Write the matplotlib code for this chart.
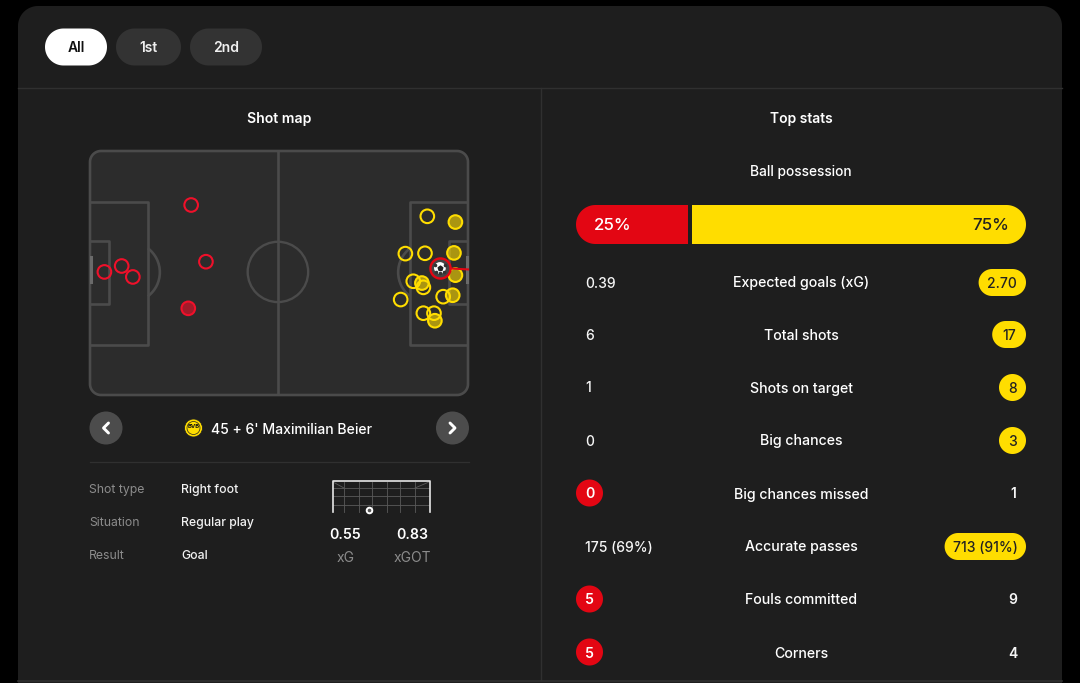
import matplotlib
matplotlib.use("Agg")
import numpy as np
import matplotlib.pyplot as plt
from matplotlib.patches import Polygon, Circle, Arc

plt.rcParams['font.family'] = ['Inter', 'DejaVu Sans']

# ---------- data ----------
periods = ["All", "1st", "2nd"]
possession_home = 25
possession_away = 75
stat_labels = ["Expected goals (xG)", "Total shots", "Shots on target", "Big chances",
               "Big chances missed", "Accurate passes", "Fouls committed", "Corners"]
home_values = ["0.39", "6", "1", "0", "0", "175 (69%)", "5", "5"]
away_values = ["2.70", "17", "8", "3", "1", "713 (91%)", "9", "4"]
highlight = ["away", "away", "away", "away", "home", "away", "home", "home"]

home_x = [28.1, 32.2, 27.3, 4.0, 8.8, 11.9]
home_y = [15.05, 30.85, 43.85, 33.7, 32.05, 35.1]
home_on_target = [False, False, True, False, False, False]
away_x = [93.7, 101.5, 87.6, 93.05, 101.1, 101.5, 89.8, 92.2, 92.6, 86.3, 98.1, 100.75, 92.6, 95.55, 95.8]
away_y = [18.2, 19.8, 28.6, 28.5, 28.4, 34.6, 36.3, 36.8, 38.0, 41.4, 40.6, 40.2, 45.2, 45.2, 47.3]
away_on_target = [False, True, False, False, True, True, False, True, False, False, False, True, False, False, True]
goal_x, goal_y = 97.2, 32.6

detail_labels = ["Shot type", "Situation", "Result"]
detail_values = ["Right foot", "Regular play", "Goal"]
xg_text, xgot_text = "0.55", "0.83"
shot_title = "45 + 6' Maximilian Beier"

# ---------- colours ----------
BLACK = "#000000"; CARD = "#1e1e1e"; LINE = "#303030"; PITCH = "#2c2c2c"; PLINE = "#4b4b4b"
RED = "#e30613"; YEL = "#ffdd00"; WHITE = "#ffffff"; GREY = "#8c8c8c"

W, H = 1080, 683
fig = plt.figure(figsize=(W/100, H/100), dpi=100, facecolor=BLACK)
ax = fig.add_axes([0, 0, 1, 1]); ax.set_xlim(0, W); ax.set_ylim(H, 0); ax.axis("off")

def rpoly(x0, y0, x1, y1, r):
    t = np.linspace(0, np.pi/2, 24)
    pts = []
    for cx, cy, s in ((x1-r, y0+r, -np.pi/2), (x1-r, y1-r, 0), (x0+r, y1-r, np.pi/2), (x0+r, y0+r, np.pi)):
        pts.append(np.c_[cx + r*np.cos(t+s), cy + r*np.sin(t+s)])
    return np.vstack(pts)

def rbox(x0, y0, x1, y1, r, fc, ec="none", lw=0, z=1, a=ax):
    p = Polygon(rpoly(x0, y0, x1, y1, r), closed=True, fc=fc, ec=ec, lw=lw, zorder=z)
    a.add_patch(p); return p

def txt(x, y, s, size=10.5, color=WHITE, ha="center", weight="medium", z=6, a=ax):
    a.text(x, y, s, fontsize=size, color=color, ha=ha, va="center_baseline", fontweight=weight, zorder=z)

# card and dividers
rbox(18, 6, 1062, 720, 20, CARD)
ax.plot([18, 1062], [88, 88], color=LINE, lw=1, zorder=2)
ax.plot([541, 541], [88, 680], color=LINE, lw=1, zorder=2)
ax.plot([18, 1062], [680.5, 680.5], color=LINE, lw=1.2, zorder=2)

# period buttons
btn = [(45, 107), (116, 181), (190, 262)]
for i, (lab, (x0, x1)) in enumerate(zip(periods, btn)):
    rbox(x0, 28.5, x1, 65.5, 18.5, WHITE if i == 0 else "#333333", z=3)
    txt((x0+x1)/2, 47, lab, 10, "#111111" if i == 0 else "#f0f0f0", weight="semibold")

txt(279, 118, "Shot map", 10.1, weight="semibold")
txt(801, 118, "Top stats", 10, weight="semibold")

# ---------- pitch ----------
rbox(90, 151, 468, 395, 11, PITCH, PLINE, 1.9, z=2)
pitch = fig.add_axes([90/W, 1-395/H, 378/W, 244/H]); pitch.set_xlim(0, 105); pitch.set_ylim(68, 0)
pitch.axis("off"); pitch.patch.set_alpha(0)
L = dict(color=PLINE, lw=1.9, zorder=2, solid_capstyle="round")
pitch.plot([52.2, 52.2], [0, 68], **L)
pitch.add_patch(Circle((52.2, 33.7), 8.4, fc="none", ec=PLINE, lw=1.7, zorder=2))
for side in (0, 1):
    f = (lambda v: v) if side == 0 else (lambda v: 105-v)
    pitch.plot([f(0), f(16), f(16), f(0)], [14.2, 14.2, 54.0, 54.0], **L)
    pitch.plot([f(0), f(5.4), f(5.4), f(0)], [25.1, 25.1, 42.6, 42.6], **L)
    ang = (-53, 53) if side == 0 else (127, 233)
    pitch.add_patch(Arc((f(11), 33.8), 16.8, 16.8, theta1=ang[0], theta2=ang[1], ec=PLINE, lw=1.9, zorder=2))
    pitch.plot([f(0.3), f(0.3)], [29.5, 36.5], color="#6a6a6a", lw=2.2, zorder=2, clip_on=False)

def shots(xs, ys, on, col):
    for x, y, o in zip(xs, ys, on):
        pitch.scatter([x], [y], s=96, facecolor=(col if o else "none"), edgecolor="none",
                      alpha=0.6 if o else 1, zorder=4, clip_on=False)
        pitch.scatter([x], [y], s=96, facecolor="none", edgecolor=col, linewidth=1.5, zorder=5, clip_on=False)
shots(home_x, home_y, home_on_target, "#f0102a")
shots(away_x, away_y, away_on_target, YEL)

# selected goal shot
pitch.plot([goal_x, 105], [goal_y, 33.0], color=RED, lw=1.5, zorder=6, clip_on=False)
pitch.scatter([goal_x], [goal_y], s=210, facecolor="#444444", edgecolor=RED, linewidth=1.7, zorder=7)
pitch.scatter([goal_x], [goal_y], s=72, facecolor=WHITE, edgecolor="none", zorder=8)
pitch.scatter([goal_x], [goal_y], s=12, facecolor="#222222", marker="p", zorder=9)
for dx, dy in ((-1.3, -0.7), (1.3, -0.7), (0, 1.4), (-1.0, 1.1), (1.0, 1.1)):
    pitch.scatter([goal_x+dx], [goal_y+dy], s=2.5, facecolor="#333333", zorder=9)

# ---------- navigator ----------
for cx, d in ((106, -1), (452.5, 1)):
    ax.add_patch(Circle((cx, 428), 16.5, fc="#4c4c4c", ec="none", zorder=3))
    ax.plot([cx-d*2.5, cx+d*2.5, cx-d*2.5], [423, 428, 433], color=WHITE, lw=2.1, zorder=4, solid_capstyle="round")
ax.add_patch(Circle((193.5, 428), 9, fc=YEL, ec="#222222", lw=0.6, zorder=3))
ax.add_patch(Circle((193.5, 428), 6.5, fc="none", ec="#222222", lw=0.5, zorder=4))
txt(193.5, 426.5, "BVB", 4.2, "#111111", weight="bold")
txt(211, 428, shot_title, 10.1, ha="left")
ax.plot([90, 469], [461.5, 461.5], color=LINE, lw=0.9, zorder=2)

for i, (a_, b_) in enumerate(zip(detail_labels, detail_values)):
    y = 488.5 + i*33
    txt(89, y, a_, 8.8, GREY, ha="left", weight="normal")
    txt(181, y, b_, 8.8, "#f2f2f2", ha="left")

# goal mini
for x in (344, 359, 372, 387, 400, 415):
    ax.plot([x, x], [482, 512], color="#5a5a5a", lw=0.6, zorder=2)
for y in (488, 496, 505):
    ax.plot([333, 429], [y, y], color="#5a5a5a", lw=0.6, zorder=2)
ax.plot([333, 344], [482, 488], color="#5a5a5a", lw=0.6, zorder=2)
ax.plot([429, 415], [482, 488], color="#5a5a5a", lw=0.6, zorder=2)
ax.plot([332.5, 332.5, 429.5, 429.5], [512, 480.5, 480.5, 512], color="#e6e6e6", lw=1.2, zorder=3)
ax.add_patch(Circle((369.5, 510.5), 2.8, fc="#555555", ec=WHITE, lw=1.4, zorder=4))
txt(345.5, 533.5, xg_text, 10.2, weight="semibold")
txt(412, 533.5, xgot_text, 10.2, weight="semibold")
txt(345.5, 557, "xG", 10, GREY, weight="normal")
txt(412, 557, "xGOT", 10, GREY, weight="normal")

# ---------- top stats ----------
txt(801, 170.5, "Ball possession", 9.9)
bar = fig.add_axes([576/W, 1-244/H, 450/W, 39/H]); bar.set_xlim(0, 100); bar.set_ylim(0, 1); bar.axis("off")
clip = Polygon(rpoly(576, 205, 1026, 244, 19.5), closed=True, fc="none", ec="none", transform=ax.transData)
ax.add_patch(clip)
b1 = bar.barh([0.5], [possession_home - 0.15], left=0, height=1, color=RED)
b2 = bar.barh([0.5], [possession_away - 0.8], left=possession_home + 0.8, height=1, color=YEL)
for r in list(b1) + list(b2):
    r.set_clip_path(clip)
bar.text(4, 0.5, f"{possession_home}%", fontsize=12.2, color=WHITE, ha="left", va="center_baseline", fontweight="medium", zorder=6)
bar.text(96.2, 0.5, f"{possession_away}%", fontsize=12.2, color="#222222", ha="right", va="center_baseline", fontweight="medium", zorder=6)

row_y = [282, 334, 387, 440, 493, 546, 599, 652]
for y, lab, hv, av, hl in zip(row_y, stat_labels, home_values, away_values, highlight):
    txt(801, y, lab, 10.2)
    if hl == "home":
        wd = 27 + 6.8*(len(hv)-1)
        rbox(576, y-13.5, 576+wd, y+13.5, 13.5, RED, z=3)
        txt(576+wd/2, y, hv, 10.2, WHITE, weight="semibold")
    else:
        txt(585, y, hv, 10, "#f5f5f5", ha="left")
    ypill = y + 0.5
    if hl == "away":
        wd = 27 + 6.8*(len(av)-1)
        rbox(1026-wd, ypill-13.5, 1026, ypill+13.5, 13.5, YEL, z=3)
        txt(1026-wd/2, ypill, av, 10, "#222222")
    else:
        txt(1013, y, av, 10, "#f5f5f5", weight="semibold")

fig.savefig("out.png", dpi=100, facecolor=BLACK)
